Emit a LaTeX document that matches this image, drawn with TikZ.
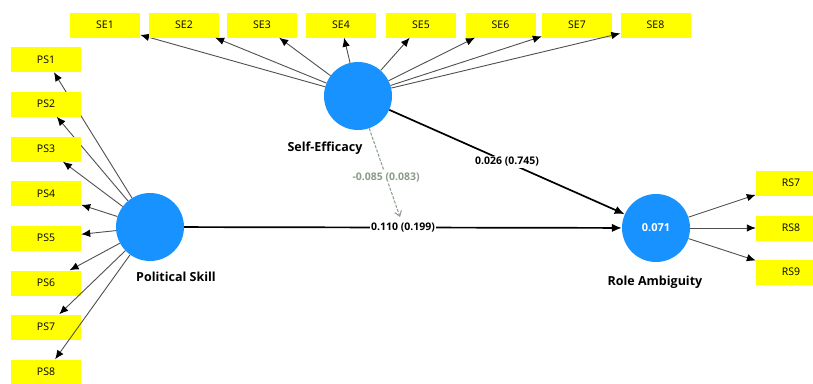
\documentclass[tikz,border=0pt]{standalone}
\usepackage{fontspec}
\setmainfont{Open Sans}
\usetikzlibrary{arrows.meta}
\definecolor{lvblue}{RGB}{24,146,255}
\definecolor{indyellow}{RGB}{255,255,0}
\definecolor{loadgray}{RGB}{80,80,80}
\definecolor{modgray}{RGB}{138,156,138}
\begin{document}
\begin{tikzpicture}[x=1pt,y=-1pt,
  ind/.style={fill=indyellow, minimum width=70pt, minimum height=25pt, inner sep=0pt,
    font=\fontsize{10.5}{12}\selectfont},
  lv/.style={circle, fill=lvblue, minimum size=68pt, inner sep=0pt, text=white,
    font=\bfseries\fontsize{11}{12}\selectfont},
  lvlabel/.style={font=\bfseries\fontsize{12.5}{14}\selectfont},
  load/.style={draw=loadgray, line width=0.9pt, -{Latex[length=9pt,width=7.5pt,color=black]}},
  pathcoef/.style={draw=black, line width=1.7pt, -{Latex[length=10pt,width=8.5pt]}},
  coef/.style={fill=white, inner sep=1.5pt, font=\bfseries\fontsize{10.5}{12}\selectfont},
  modarrow/.style={draw=modgray, line width=1pt, dash pattern=on 3pt off 1.5pt,
    -{Straight Barb[length=5pt,width=7pt]}},
]
\clip (0,0) rectangle (813,383);
\fill[white] (0,0) rectangle (813,383);

% latent variables
\node[lv] (ps) at (150,227) {};
\node[lv] (se) at (358,96) {};
\node[lv] (ra) at (656,228) {0.071};
\node[lvlabel] (pslab) at (176,277) {Political Skill};
\node[lvlabel] (selab) at (325,148) {Self-Efficacy};
\node[lvlabel] (ralab) at (655,282) {Role Ambiguity};

% indicators of Political Skill
\foreach \i/\y in {1/59.5,2/104,3/149,4/193.5,5/238,6/283,7/327,8/372}{
  \node[ind] (PS\i) at (46,\y) {PS\i};
  \draw[load] (ps) -- (PS\i);
}
% indicators of Self-Efficacy
\foreach \i/\x in {1/105,2/184,3/262,4/341,5/421,6/500.5,7/577,8/655.5}{
  \node[ind] (SE\i) at (\x,25) {SE\i};
  \draw[load] (se) -- (SE\i);
}
% indicators of Role Ambiguity
\foreach \i/\y in {7/183,8/228,9/272}{
  \node[ind] (RS\i) at (791,\y) {RS\i};
  \draw[load] (ra) -- (RS\i);
}

% structural paths
\draw[pathcoef] (ps) -- node[coef] {0.110 (0.199)} (ra);
\draw[pathcoef] (se) -- node[coef] {0.026 (0.745)} (ra);

% moderating effect
\coordinate (mod) at (400,217);
\draw[modarrow] (se) -- node[pos=0.55, fill=white, inner sep=1.5pt, text=modgray,
  font=\bfseries\fontsize{10.5}{12}\selectfont] {-0.085 (0.083)} (mod);
\end{tikzpicture}
\end{document}
